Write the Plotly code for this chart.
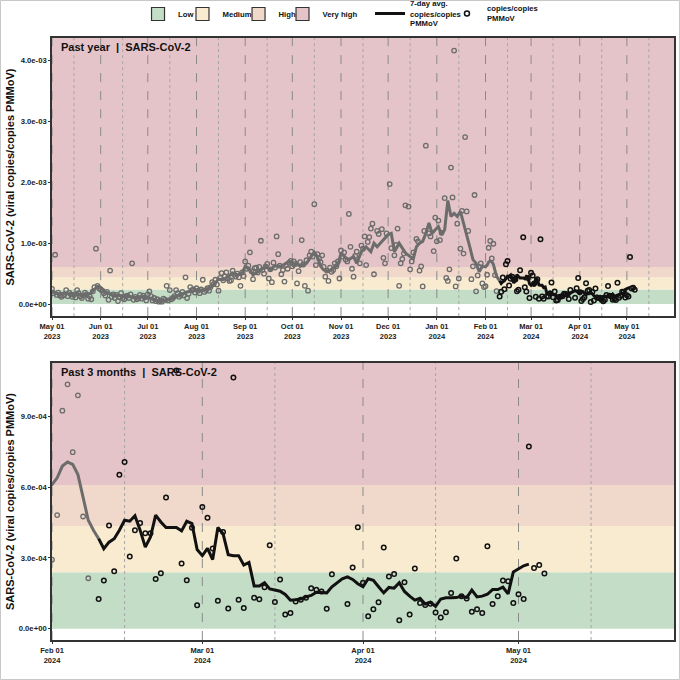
import numpy as np
import pandas as pd
import plotly.graph_objects as go
from plotly.subplots import make_subplots

# ---------------- data ----------------
BASE_DATE = "2023-05-01"      # day 0 of the day-offset arrays below
CUTOFF_DAY = 284              # first day of the highlighted "past 3 months" (2024-02-09)

# individual samples: day offset from BASE_DATE, value in units of 1e-4 copies/copies PMMoV
sample_day = [
    0, 1, 2, 3, 4, 5, 6, 7, 8, 9, 10, 11, 12, 13, 14, 15, 16, 17, 18, 19,
    20, 21, 22, 23, 24, 25, 26, 27, 28, 29, 30, 31, 32, 33, 34, 35, 36, 37, 38, 39,
    40, 41, 42, 43, 44, 45, 46, 47, 48, 49, 50, 51, 52, 53, 54, 55, 56, 57, 58, 59,
    60, 61, 62, 63, 64, 65, 66, 67, 68, 69, 70, 71, 72, 73, 74, 75, 76, 77, 78, 79,
    80, 81, 82, 83, 84, 85, 86, 87, 88, 89, 90, 91, 92, 93, 94, 95, 96, 97, 98, 99,
    100, 101, 102, 103, 104, 105, 106, 107, 108, 109, 110, 111, 112, 113, 114, 115, 116, 117, 118, 119,
    120, 121, 122, 123, 124, 125, 126, 127, 128, 129, 130, 131, 132, 133, 134, 135, 136, 137, 138, 139,
    140, 141, 142, 143, 144, 145, 146, 147, 148, 149, 150, 151, 152, 153, 154, 155, 156, 157, 158, 159,
    160, 161, 162, 163, 164, 165, 166, 167, 168, 169, 170, 171, 172, 173, 174, 175, 176, 177, 178, 179,
    180, 181, 182, 183, 184, 185, 186, 187, 188, 189, 190, 191, 192, 193, 194, 196, 197, 198, 199, 200,
    201, 202, 203, 204, 205, 207, 208, 210, 211, 212, 213, 215, 216, 218, 219, 220, 221, 222, 223, 224,
    225, 227, 228, 229, 230, 232, 233, 234, 235, 236, 237, 238, 240, 241, 243, 244, 245, 246, 247, 248,
    250, 251, 252, 253, 254, 255, 256, 257, 258, 259, 260, 261, 262, 263, 264, 265, 267, 268, 269, 270,
    271, 272, 273, 274, 275,
    276, 277, 278, 279, 280, 281, 282, 283, 285, 286, 287, 288, 289, 290, 291, 292, 293, 294, 295, 296,
    297, 298, 300, 301, 302, 303, 304, 305, 306, 307, 308, 309, 310, 311, 312, 313, 315, 316, 317, 318,
    319, 320, 321, 322, 323, 324, 325, 326, 327, 328, 329, 330, 333, 334, 335, 336, 337, 338, 339, 340,
    341, 342, 343, 344, 345, 346, 347, 348, 349, 350, 351, 352, 353, 354, 355, 356, 357, 358, 359, 360,
    361, 362, 363, 364, 365, 366, 367, 368, 369, 370, 371,
]
sample_val_e4 = [
    2.5, 1.8, 8.1, 1.5, 1.9, 1.4, 1.2, 1.4, 1.6, 2.3, 1.3, 1.9, 1.6, 1.2, 1.5, 1.1, 2.3, 1.8, 1.3, 1.0,
    1.4, 1.9, 1.6, 0.9, 1.3, 0.8, 2.1, 2.8, 9.1, 3.0, 2.6, 2.4, 2.2, 1.8, 1.4, 2.0, 0.7, 5.5, 1.2, 1.6,
    1.0, 1.5, 0.5, 1.2, 1.8, 1.0, 0.8, 1.3, 1.4, 1.0, 1.6, 6.7, 0.7, 1.2, 0.8, 1.0, 1.5, 0.9, 1.4, 1.1,
    0.6, 1.6, 2.1, 1.3, 0.6, 1.0, 0.5, 0.8, 0.4, 0.6, 0.4, 0.9, 0.7, 3.0, 0.6, 2.3, 0.8, 1.0, 1.3, 2.3,
    1.8, 1.2, 1.5, 2.0, 1.4, 4.4, 1.0, 1.7, 2.8, 2.3, 2.4, 1.9, 2.6, 2.2, 1.8, 2.4, 4.0, 2.0, 2.3, 2.6,
    2.2, 2.8, 3.6, 3.3, 4.0, 3.2, 2.2, 4.3, 5.1, 3.9, 4.6, 5.2, 4.2, 3.8, 3.9, 5.5, 4.8, 4.5, 5.0, 4.4,
    3.0, 5.2, 4.6, 7.0, 5.8, 6.3, 8.5, 5.4, 4.1, 5.9, 6.0, 5.2, 6.1, 10.4, 5.6, 5.0, 6.2, 6.6, 4.2, 5.7,
    3.6, 6.8, 6.0, 11.1, 8.2, 6.3, 4.9, 5.6, 3.7, 6.4, 5.8, 6.8, 7.1, 6.2, 7.0, 6.6, 3.4, 5.4, 6.9, 10.5,
    6.5, 3.0, 7.2, 2.2, 8.0, 8.6, 7.8, 16.4, 6.4, 8.2, 7.5, 6.9, 8.0, 6.1, 4.5, 5.5, 3.8, 6.0, 5.3, 5.6,
    6.7, 6.2, 7.0, 4.2, 8.8, 7.8, 8.5, 7.3, 7.0, 14.8, 9.4, 5.8, 4.5, 7.9, 8.6, 6.7, 9.6, 9.1, 11.1, 6.4,
    10.2, 11.0, 12.4, 13.2, 4.9, 12.0, 11.5, 12.3, 7.6, 6.7, 11.6, 19.7, 9.2, 8.0, 9.7, 12.4, 3.0, 6.7, 7.4, 8.3,
    16.2, 16.0, 5.7, 7.0, 8.5, 10.7, 10.3, 5.5, 6.2, 2.9, 12.0, 26.0, 11.6, 11.1, 8.7, 14.2, 10.3, 13.7, 10.5, 11.7,
    17.4, 4.3, 3.8, 5.7, 22.4, 17.5, 41.6, 2.9, 13.2, 4.2, 9.1, 15.3, 8.3, 27.4, 15.2, 12.0, 4.1, 6.2, 17.9, 2.1,
    4.7, 6.1, 6.7, 3.4, 2.8,
    2.93, 4.82, 9.25, 10.37, 7.49, 9.90, 4.76, 2.14, 1.26, 2.04, 4.38, 2.44, 6.53, 7.07, 3.06, 4.18, 4.48, 4.05, 4.05, 2.11,
    2.35, 5.57, 10.96, 2.77, 2.05, 4.28, 0.99, 5.16, 4.71, 3.40, 1.19, 4.10, 0.86, 10.66, 1.23, 0.88, 1.31, 1.25, 1.76, 3.54,
    1.13, 2.09, 0.60, 0.67, 1.15, 1.23, 1.31, 1.72, 1.65, 1.58, 0.85, 2.31, 1.05, 2.60, 4.30, 1.95, 0.53, 0.82, 1.12, 3.44,
    2.21, 2.32, 0.36, 1.97, 0.60, 2.55, 1.09, 1.00, 1.06, 0.69, 0.47, 0.70, 1.51, 2.98, 1.38, 1.28, 0.72, 0.82, 0.67, 3.50,
    1.05, 1.38, 2.04, 2.01, 1.09, 1.46, 1.26, 7.73, 2.58, 2.70, 2.34,
]

# 7-day average: day offset from BASE_DATE, value in units of 1e-4
avg_day = [
    0, 4, 8, 12, 16, 20, 24, 27, 29, 31,
    34, 38, 42, 46, 50, 54, 58, 62, 66, 70,
    74, 78, 82, 86, 90, 94, 98, 100, 103, 106,
    109, 112, 115, 118, 121, 123, 126, 128, 130, 133,
    136, 139, 142, 146, 149, 151, 154, 156, 158, 162,
    165, 167, 169, 171, 173, 176, 179, 182, 184, 187,
    189, 192, 194, 197, 200, 203, 205, 207, 209, 211,
    214, 216, 218, 221, 223, 225, 228, 230, 232, 234,
    236, 238, 240, 242, 244, 246, 248, 250, 252, 254,
    256, 258, 260, 262, 264, 266, 268, 270, 272, 274,
    276, 277, 278, 279, 280, 281, 282, 283, 284, 285, 286, 287, 288, 289, 290, 291, 292, 293, 294, 295,
    296, 297, 298, 299, 300, 301, 302, 303, 304, 305, 306, 307, 308, 309, 310, 311, 312, 313, 314, 315,
    316, 317, 318, 319, 320, 321, 322, 323, 324, 325, 326, 327, 328, 329, 330, 331, 332, 333, 334, 335,
    336, 337, 338, 339, 340, 341, 342, 343, 344, 345, 346, 347, 348, 349, 350, 351, 352, 353, 354, 355,
    356, 357, 358, 359, 360, 361, 362, 363, 364, 365, 366, 367, 368,
]
avg_val_e4 = [
    2.0, 1.7, 1.8, 1.6, 1.7, 1.5, 1.7, 2.4, 2.9, 2.7,
    2.0, 1.6, 1.4, 1.3, 1.2, 1.1, 1.2, 1.0, 0.6, 0.5,
    0.7, 1.2, 1.5, 2.0, 2.2, 2.3, 2.4, 2.6, 3.2, 4.1,
    4.0, 4.5, 5.1, 4.8, 5.1, 6.2, 5.6, 4.8, 5.1, 5.6,
    6.2, 5.6, 6.3, 6.2, 6.7, 7.0, 6.2, 6.7, 6.2, 6.7,
    7.8, 8.5, 7.8, 6.2, 5.6, 5.4, 5.9, 6.4, 8.4, 7.6,
    7.3, 7.8, 6.7, 8.6, 9.4, 8.6, 10.0, 9.4, 10.0, 10.5,
    11.4, 11.6, 8.6, 10.0, 9.1, 8.4, 7.8, 7.4, 9.4, 10.0,
    10.3, 11.6, 13.3, 11.6, 12.2, 12.7, 11.4, 12.2, 17.0, 14.4,
    14.9, 14.4, 15.2, 13.3, 11.6, 9.4, 7.3, 6.7, 5.3, 6.2,
    6.11, 6.40, 6.90, 7.07, 6.97, 6.54, 5.54, 4.60, 4.18, 3.82, 3.39, 3.67, 3.82, 4.18, 4.60, 4.56, 4.79, 4.18, 3.46, 3.89,
    4.82, 4.53, 4.29, 4.29, 4.29, 4.15, 4.56, 4.46, 3.36, 3.10, 3.41, 2.93, 4.29, 4.03, 3.14, 3.10, 3.10, 2.70, 2.81, 1.81,
    1.81, 1.95, 1.69, 1.64, 1.59, 1.45, 1.21, 1.23, 1.26, 1.35, 1.41, 1.55, 1.55, 1.52, 1.78, 1.95, 2.12, 2.20, 2.09, 1.91,
    1.78, 2.12, 2.05, 1.78, 1.52, 1.75, 1.72, 1.95, 1.58, 1.38, 1.21, 1.29, 1.05, 1.12, 0.95, 1.26, 1.31, 1.31, 1.32, 1.38,
    1.32, 1.64, 1.35, 1.38, 1.46, 1.66, 1.66, 1.76, 1.48, 2.41, 2.55, 2.67, 2.74,
]

# risk levels and their colours
level_names = ["Low", "Medium", "High", "Very high"]
level_lower = [0.0, 2.4e-4, 4.36e-4, 6.1e-4]
level_upper = [2.4e-4, 4.36e-4, 6.1e-4, 1.0]
level_colors = ["#c4ddc6", "#f9ebd0", "#f0d9ca", "#e5c4c9"]

# axis ticks
top_ytick_vals = [0, 1e-3, 2e-3, 3e-3, 4e-3]
top_ytick_text = ["0.0e+00", "1.0e-03", "2.0e-03", "3.0e-03", "4.0e-03"]
bot_ytick_vals = [0, 3e-4, 6e-4, 9e-4]
bot_ytick_text = ["0.0e+00", "3.0e-04", "6.0e-04", "9.0e-04"]

top_xrange = ["2023-05-01", "2024-05-31"]
bot_xrange = ["2024-02-01", "2024-05-31"]
top_yrange = [-0.197e-3, 4.366e-3]
bot_yrange = [-0.48e-4, 11.27e-4]

panel_titles = ["Past year&nbsp;&nbsp;|&nbsp;&nbsp;SARS-CoV-2",
                "Past 3 months&nbsp;&nbsp;|&nbsp;&nbsp;SARS-CoV-2"]
y_title = "SARS-CoV-2 (viral copies/copies PMMoV)"
avg_label = "7-day avg.<br>copies/copies<br>PMMoV"
pts_label = "copies/copies<br>PMMoV"

# ---------------- derived ----------------
base = pd.Timestamp(BASE_DATE)
s_day = np.array(sample_day)
s_date = base + pd.to_timedelta(s_day, unit="D")
s_val = np.array(sample_val_e4) * 1e-4
a_day = np.array(avg_day)
a_date = base + pd.to_timedelta(a_day, unit="D")
a_val = np.array(avg_val_e4) * 1e-4

old_pts = s_day < CUTOFF_DAY
new_pts = ~old_pts
old_line = a_day <= CUTOFF_DAY + 1
new_line = a_day >= CUTOFF_DAY + 1

GRAY = "#6c6c6c"
BLACK = "#111111"
FONT = "Liberation Sans"

fig = make_subplots(rows=2, cols=1, vertical_spacing=0.08)

for r in (1, 2):
    fig.add_trace(go.Scatter(x=s_date[old_pts], y=s_val[old_pts], mode="markers",
                             marker=dict(symbol="circle-open", size=4.5, color=GRAY,
                                         line=dict(width=1.3, color=GRAY)),
                             showlegend=False, hoverinfo="skip"), row=r, col=1)
    fig.add_trace(go.Scatter(x=s_date[new_pts], y=s_val[new_pts], mode="markers",
                             marker=dict(symbol="circle-open", size=4.5, color=BLACK,
                                         line=dict(width=1.5, color=BLACK)),
                             showlegend=False, hoverinfo="skip"), row=r, col=1)
    fig.add_trace(go.Scatter(x=a_date[old_line], y=a_val[old_line], mode="lines",
                             line=dict(color=GRAY, width=3),
                             showlegend=False, hoverinfo="skip"), row=r, col=1)
    fig.add_trace(go.Scatter(x=a_date[new_line], y=a_val[new_line], mode="lines",
                             line=dict(color=BLACK, width=3),
                             showlegend=False, hoverinfo="skip"), row=r, col=1)

# legend-only entries, each in its own small legend box so they sit like the original
legend_ids = ["legend", "legend2", "legend3", "legend4", "legend5", "legend6"]
legend_x = [0.1383, 0.2098, 0.2999, 0.3706, 0.5113, 0.6350]
for lid, name, col in zip(legend_ids[:4], level_names, level_colors):
    fig.add_trace(go.Scatter(
        x=[None], y=[None], mode="markers", name=name, legend=lid,
        marker=dict(symbol="square", size=13, color=col, line=dict(color="#333333", width=1.2)),
        showlegend=True), row=1, col=1)
fig.add_trace(go.Scatter(x=[None], y=[None], mode="lines", legend=legend_ids[4],
                         name=avg_label, line=dict(color=BLACK, width=3)), row=1, col=1)
fig.add_trace(go.Scatter(x=[None], y=[None], mode="markers", legend=legend_ids[5],
                         name=pts_label,
                         marker=dict(symbol="circle-open", size=5, color=BLACK, line=dict(width=1.5))),
              row=1, col=1)

# background bands and month / mid-month guide lines
shapes = []
for r, (xr, xs) in enumerate([(top_xrange, "x"), (bot_xrange, "x2")], start=1):
    ys = "y" if r == 1 else "y2"
    for lo, hi, col in zip(level_lower, level_upper, level_colors):
        shapes.append(dict(type="rect", xref=f"{xs} domain", yref=ys, x0=0, x1=1,
                           y0=lo, y1=hi, fillcolor=col, line=dict(width=0), layer="below"))
    for d in pd.date_range(xr[0], xr[1], freq="MS"):
        shapes.append(dict(type="line", xref=xs, yref=f"{ys} domain", x0=d, x1=d, y0=0, y1=1,
                           line=dict(color="#8a8a8a", width=1, dash="dash"), layer="below"))
    for d in pd.date_range(xr[0], xr[1], freq="MS") + pd.Timedelta(days=14):
        if d <= pd.Timestamp(xr[1]):
            shapes.append(dict(type="line", xref=xs, yref=f"{ys} domain", x0=d, x1=d, y0=0, y1=1,
                               line=dict(color="#a5a5a5", width=1, dash="dot"), layer="below"))
# thin page border
shapes.append(dict(type="rect", xref="paper", yref="paper",
                   x0=-0.0828, x1=1.0088, y0=-0.0656, y1=1.0623,
                   line=dict(color="#c8c8c8", width=1), fillcolor="rgba(0,0,0,0)", layer="above"))

axis_common = dict(showline=True, linecolor="#333333", linewidth=1.5, mirror=True,
                   showgrid=False, zeroline=False, ticks="outside", ticklen=2,
                   tickcolor="#333333")
fig.update_xaxes(**axis_common, type="date",
                 tickfont=dict(family=FONT, size=7.5, color="#222222", weight="bold"),
                 tickformat="%b %d<br>%Y", dtick="M1")
fig.update_yaxes(**axis_common, tickfont=dict(family=FONT, size=7.7, color="#222222", weight="bold"),
                 title=dict(text=y_title, font=dict(family=FONT, size=11, color="#111111", weight="bold"),
                            standoff=2))

legend_font = dict(family=FONT, size=7.7, color="#111111", weight="bold")
legend_layout = {}
for lid, lx in zip(legend_ids, legend_x):
    legend_layout[lid] = dict(orientation="h", x=lx, xanchor="left", y=1.0399, yanchor="middle",
                              font=legend_font, itemwidth=30, bgcolor="rgba(0,0,0,0)",
                              borderwidth=0, valign="middle")

fig.update_layout(
    width=680, height=680,
    margin=dict(l=52, r=6, t=38, b=40, autoexpand=False),
    paper_bgcolor="white", plot_bgcolor="white",
    shapes=shapes,
    xaxis=dict(range=top_xrange, tick0=top_xrange[0]),
    xaxis2=dict(range=bot_xrange, tick0=bot_xrange[0]),
    yaxis=dict(range=top_yrange, domain=[0.538, 1.0], tickvals=top_ytick_vals, ticktext=top_ytick_text),
    yaxis2=dict(range=bot_yrange, domain=[0.0, 0.460], tickvals=bot_ytick_vals, ticktext=bot_ytick_text),
    annotations=[
        dict(text=panel_titles[0], xref="x domain", yref="y domain", x=0.012, y=0.995,
             xanchor="left", yanchor="top", showarrow=False,
             font=dict(family=FONT, size=11, color="#111111", weight="bold")),
        dict(text=panel_titles[1], xref="x2 domain", yref="y2 domain", x=0.012, y=0.995,
             xanchor="left", yanchor="top", showarrow=False,
             font=dict(family=FONT, size=11, color="#111111", weight="bold")),
    ],
    **legend_layout,
)

# the original image has no page margin around the chart
fig.write_html("out.html", config={"displayModeBar": False},
               post_script="document.body.style.margin='0';")
